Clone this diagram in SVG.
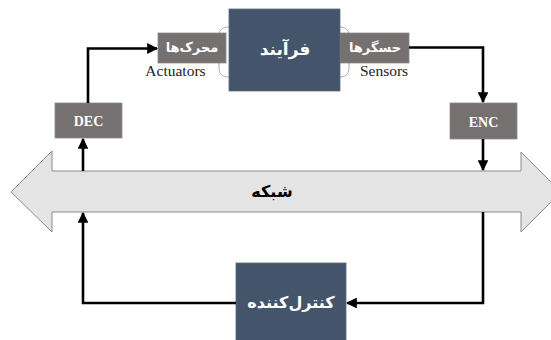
<svg xmlns="http://www.w3.org/2000/svg" width="551" height="340" viewBox="0 0 551 340">
<defs>
<style>
.dark{fill:#44546A;stroke:#5d6b80;stroke-width:0.8}
.gray{fill:#767171;stroke:#8f8a8a;stroke-width:0.8}
.fa{font-family:"DejaVu Sans",sans-serif;font-weight:bold;text-anchor:middle;dominant-baseline:central}
.en{text-anchor:middle;font-family:"Liberation Serif","DejaVu Serif",serif}
.w{fill:#ffffff}
.conn{fill:none;stroke:#000;stroke-width:2.6}
</style>
<marker id="ah" viewBox="0 0 10 10" refX="9" refY="5" markerWidth="4.2" markerHeight="4.2" markerUnits="strokeWidth" orient="auto">
<path d="M0,0 L10,5 L0,10 z" fill="#000"/>
</marker>
</defs>
<rect width="551" height="340" fill="#fff"/>
<g id="network">
<path d="M11,192 L52,151 L52,171 L521,171 L521,152 L561,192 L521,232 L521,212 L52,212 L52,232 Z" fill="#e4e4e4" stroke="#8a8a8a" stroke-width="1"/>
<text class="fa" x="272" y="191" font-size="16" fill="#000">شبکه</text>
</g>
<g id="process-frame">
<rect x="219" y="27" width="130" height="50" rx="8" fill="none" stroke="#b0b0b0" stroke-width="1"/>
</g>
<g id="actuators">
<rect class="gray" x="158" y="33" width="68" height="30"/>
<text class="fa w" x="192" y="47" font-size="13">محرک‌ها</text>
<text class="en" x="175.5" y="76" font-size="15.5" fill="#222">Actuators</text>
</g>
<g id="sensors">
<rect class="gray" x="340" y="33" width="69" height="30"/>
<text class="fa w" x="375" y="47" font-size="13">حسگرها</text>
<text class="en" x="384" y="76" font-size="15.5" fill="#222">Sensors</text>
</g>
<g id="process">
<rect class="dark" x="229" y="9" width="111" height="82"/>
<text class="fa w" x="285" y="49" font-size="17">فرآیند</text>
</g>
<g id="dec">
<rect class="gray" x="55" y="103" width="67" height="35"/>
<text class="en w" x="88.5" y="126" font-size="14" font-weight="bold">DEC</text>
</g>
<g id="enc">
<rect class="gray" x="450" y="103" width="67" height="36"/>
<text class="en w" x="483.5" y="126.5" font-size="14" font-weight="bold">ENC</text>
</g>
<g id="controller">
<rect class="dark" x="236" y="263" width="110" height="80"/>
<text class="fa w" x="291" y="302" font-size="16">کنترل‌کننده</text>
</g>
<g id="connectors">
<path class="conn" d="M88,103 L88,48.5 L157,48.5" marker-end="url(#ah)"/>
<path class="conn" d="M409,47.5 L483,47.5 L483,102" marker-end="url(#ah)"/>
<path class="conn" d="M483,139 L483,170" marker-end="url(#ah)"/>
<path class="conn" d="M483,212 L483,303 L347,303" marker-end="url(#ah)"/>
<path class="conn" d="M236,303 L83,303 L83,213" marker-end="url(#ah)"/>
<path class="conn" d="M83,171 L83,139" marker-end="url(#ah)"/>
</g>
</svg>
